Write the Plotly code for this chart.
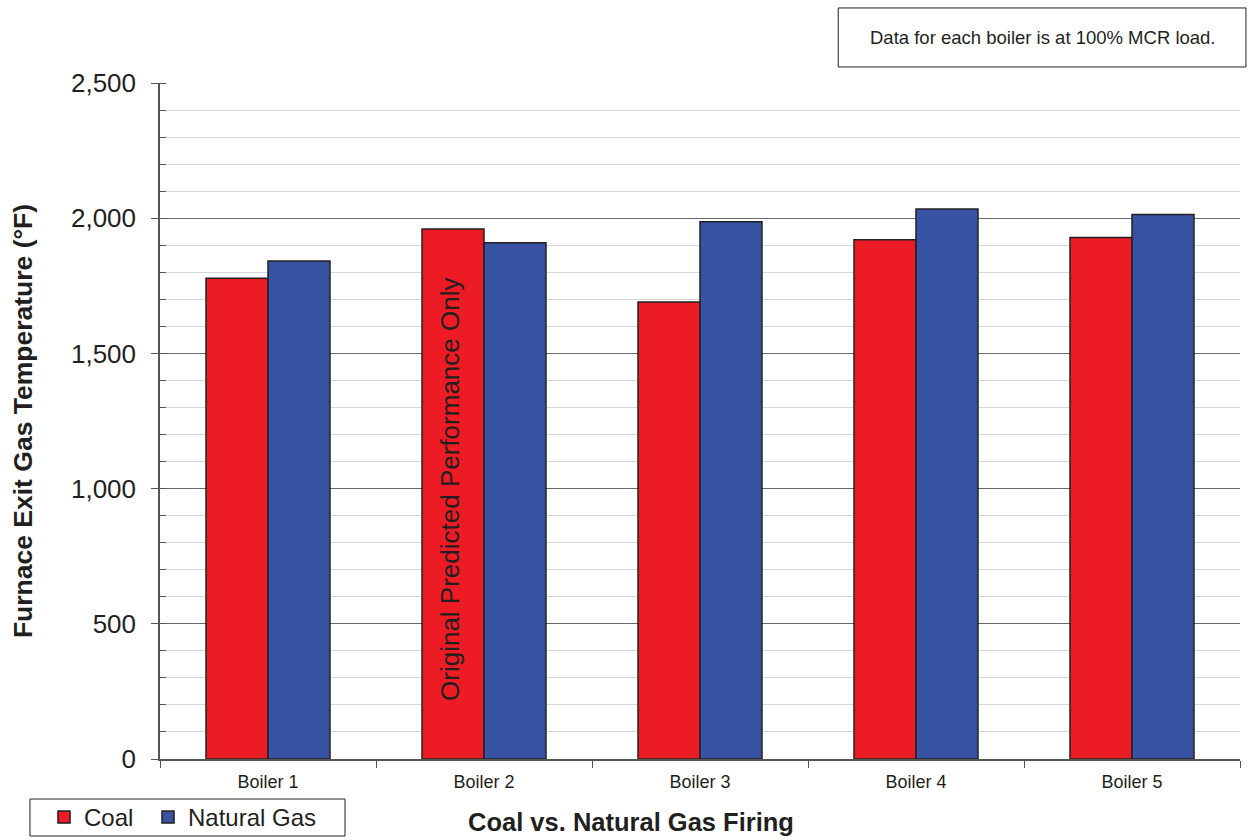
import plotly.graph_objects as go

boilers = ["Boiler 1", "Boiler 2", "Boiler 3", "Boiler 4", "Boiler 5"]
coal = [1778, 1960, 1690, 1920, 1929]
natural_gas = [1842, 1909, 1987, 2034, 2014]

font_family = "Liberation Sans, Arial, sans-serif"
ink = "#231F20"
outline = dict(color=ink, width=1.5)

fig = go.Figure()
fig.add_trace(go.Bar(
    name="Coal", x=boilers, y=coal, legend="legend",
    marker=dict(color="#ED1C24", line=outline),
))
fig.add_trace(go.Bar(
    name="Natural Gas", x=boilers, y=natural_gas, legend="legend2",
    marker=dict(color="#3953A4", line=outline),
))

# Note written vertically inside the Boiler 2 coal bar
fig.add_annotation(
    x=boilers[1], y=995, xref="x", yref="y",
    xshift=-34, text="Original Predicted Performance Only",
    textangle=-90, showarrow=False,
    font=dict(family=font_family, size=26, color=ink),
)

# Chart title below the axis
fig.add_annotation(
    x=0.436, y=-0.0935, xref="paper", yref="paper",
    xanchor="center", yanchor="middle", borderpad=0,
    text="<b>Coal vs. Natural Gas Firing</b>", showarrow=False,
    font=dict(family=font_family, size=25.5, color=ink),
)

# Load note box in the top-right corner
fig.add_shape(
    type="rect", xref="paper", yref="paper",
    x0=0.628, x1=1.0055, y0=1.0237, y1=1.111,
    line=dict(color=ink, width=1), fillcolor="white",
)
fig.add_annotation(
    x=0.818, y=1.067, xref="paper", yref="paper",
    xanchor="center", yanchor="middle",
    text="Data for each boiler is at 100% MCR load.", showarrow=False,
    font=dict(family=font_family, size=18.5, color=ink),
)

# Frame around the two legend entries
fig.add_shape(
    type="rect", xref="paper", yref="paper",
    x0=-0.1204, x1=0.1713, y0=-0.1139, y1=-0.0592,
    line=dict(color=ink, width=1), fillcolor="rgba(0,0,0,0)",
)

legend_style = dict(
    orientation="h", y=-0.0865, xanchor="left", yanchor="middle",
    borderwidth=0, bgcolor="rgba(0,0,0,0)",
    font=dict(family=font_family, size=24, color=ink),
    itemwidth=30,
)

fig.update_layout(
    width=1248, height=840,
    margin=dict(l=160, r=8, t=83, b=81, autoexpand=False),
    paper_bgcolor="white", plot_bgcolor="white",
    barmode="group", bargap=0.426, bargroupgap=0,
    font=dict(family=font_family, color=ink),
    showlegend=True,
    legend=dict(x=-0.1074, **legend_style),
    legend2=dict(x=-0.0111, **legend_style),
    xaxis=dict(
        showline=True, linecolor="#555555", linewidth=1.5,
        ticks="outside", ticklen=7, tickcolor="#555555",
        tickson="boundaries", ticklabelstandoff=6,
        tickfont=dict(size=18, color=ink),
        showgrid=False,
    ),
    yaxis=dict(
        range=[0, 2500], tickvals=[0, 500, 1000, 1500, 2000, 2500],
        tickformat=",", showline=True, linecolor="#555555", linewidth=1.5,
        ticks="outside", ticklen=7, tickcolor="#555555",
        ticklabelstandoff=10,
        tickfont=dict(size=26, color=ink),
        gridcolor="#6b6b6b", gridwidth=1,
        minor=dict(dtick=100, showgrid=True, gridcolor="#d6d6d6", gridwidth=1,
                   ticks="inside", ticklen=6, tickcolor="#555555"),
        title=dict(text="<b>Furnace Exit Gas Temperature (°F)</b>",
                   font=dict(size=26.5, color=ink), standoff=31),
        zeroline=False,
    ),
)

fig.write_html("out.html")
